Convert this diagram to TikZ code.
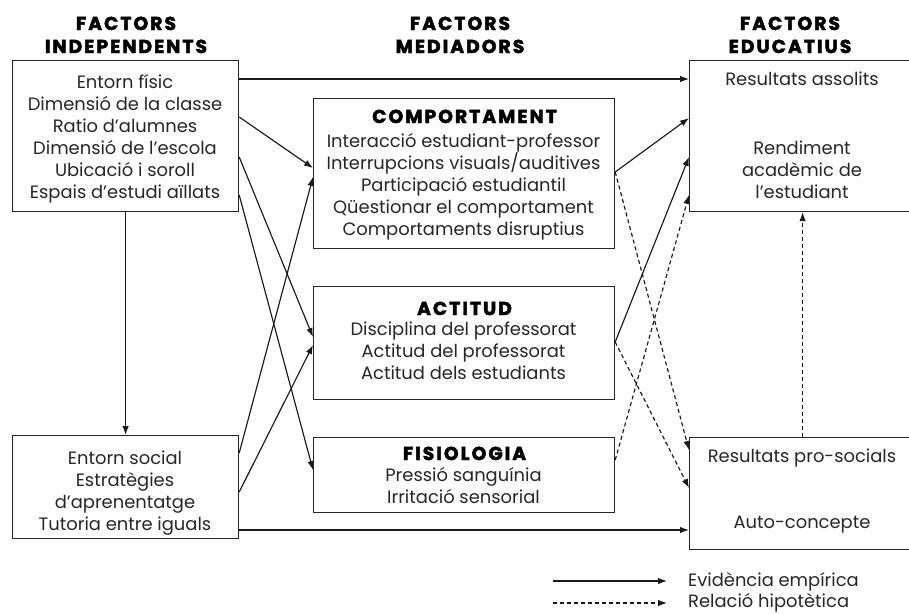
\documentclass[tikz,border=0pt]{standalone}
\usepackage{fontspec}
\setmainfont{Poppins}
\newfontfamily\headfont{Poppins}[LetterSpace=11, BoldFeatures={FakeBold=2.5}]
\usetikzlibrary{arrows.meta,calc}
\begin{document}
% multi-line texts are placed by the baseline of their last line
\begin{tikzpicture}[x=1pt,y=-1pt,
  box/.style={draw=black!85,line width=1.2pt,inner sep=0pt,anchor=north west},
  txt/.style={align=center,font=\fontsize{17.9}{22}\selectfont,text=black!85,inner sep=0pt,anchor=base},
  head/.style={align=center,font=\headfont\fontsize{18.7}{23}\bfseries\selectfont,inner sep=0pt,anchor=base},
  ttl/.style={font=\headfont\fontsize{18.7}{20}\bfseries\selectfont,inner sep=0pt,anchor=base},
  emp/.style={draw=black!90,line width=1.15pt,-{Latex[length=9pt,width=6.5pt]}},
  hyp/.style={emp,dash pattern=on 4pt off 3pt}]
\useasboundingbox (0,0) rectangle (909,613);

% column headings
\node[head] (h1) at (126,53) {FACTORS\\INDEPENDENTS};
\node[head] (h2) at (460,53) {FACTORS\\MEDIADORS};
\node[head] (h3) at (790,53) {FACTORS\\EDUCATIUS};

% boxes
\node[box,minimum width=226pt,minimum height=151pt] (lt) at (12,60) {};
\node[box,minimum width=226pt,minimum height=103pt] (lb) at (12,435) {};
\node[box,minimum width=301pt,minimum height=150pt] (mc) at (313,98) {};
\node[box,minimum width=301pt,minimum height=113pt] (ma) at (313,286) {};
\node[box,minimum width=301pt,minimum height=75pt] (mf) at (313,437) {};
\node[box,minimum width=226pt,minimum height=151pt] (rt) at (689,60) {};
\node[box,minimum width=226pt,minimum height=112pt] (rb) at (689,437) {};

% independent factors
\node[txt] (ltx) at (125,198) {Entorn físic\\Dimensió de la classe\\Ratio d’alumnes\\Dimensió de l’escola\\Ubicació i soroll\\Espais d’estudi aïllats};
\node[txt] (lbx) at (125,530) {Entorn social\\Estratègies\\d’aprenentatge\\Tutoria entre iguals};

% mediating factors
\node[ttl] (mct) at (464.5,123) {COMPORTAMENT};
\node[txt] (mcx) at (463.5,235) {Interacció estudiant-professor\\Interrupcions visuals/auditives\\Participació estudiantil\\Qüestionar el comportament\\Comportaments disruptius};
\node[ttl] (mat) at (464.5,315) {ACTITUD};
\node[txt] (max) at (463.5,379) {Disciplina del professorat\\Actitud del professorat\\Actitud dels estudiants};
\node[ttl] (mft) at (464.5,460) {FISIOLOGIA};
\node[txt] (mfx) at (463.5,503) {Pressió sanguínia\\Irritació sensorial};

% educational outcomes
\node[txt] (rt1) at (802,85) {Resultats assolits};
\node[txt] (rt2) at (802,198) {Rendiment\\acadèmic de\\l’estudiant};
\node[txt] (rb1) at (802,462) {Resultats pro-socials};
\node[txt] (rb2) at (802,528) {Auto-concepte};

% empirical relations
\draw[emp] ([yshift=-19pt]lt.north east) -- ([yshift=-19pt]rt.north west);
\draw[emp] ([yshift=-57pt]lt.north east) -- ([yshift=-70pt]mc.north west);
\draw[emp] ([yshift=-97pt]lt.north east) -- ([yshift=-51pt]ma.north west);
\draw[emp] ([yshift=-135pt]lt.north east) -- ([yshift=-33pt]mf.north west);
\draw[emp] ([yshift=-18pt]lb.north east) -- ([yshift=-79pt]mc.north west);
\draw[emp] ([yshift=-57pt]lb.north east) -- ([yshift=-59pt]ma.north west);
\draw[emp] (lt.south) -- (lb.north);
\draw[emp] ([yshift=-95pt]lb.north east) -- ([yshift=-93pt]rb.north west);
\draw[emp] ([yshift=-74pt]mc.north east) -- ([yshift=-58pt]rt.north west);
\draw[emp] ([yshift=-56pt]ma.north east) -- ([yshift=-97pt]rt.north west);

% hypothesised relations
\draw[hyp] ([yshift=-23pt]mf.north east) -- ([yshift=-135pt]rt.north west);
\draw[hyp] ([yshift=-74pt]mc.north east) -- ([yshift=-13pt]rb.north west);
\draw[hyp] ([yshift=-56pt]ma.north east) -- ([yshift=-51pt]rb.north west);
\draw[hyp] (rb.north) -- (rt.south);

% legend
\coordinate (l1a) at (553,581);
\coordinate (l1b) at (667,581);
\coordinate (l2a) at (553,603);
\coordinate (l2b) at (667,603);
\draw[emp] (l1a) -- (l1b);
\draw[hyp] (l2a) -- (l2b);
\node[txt,anchor=base west] (lg1) at (688,586) {Evidència empírica};
\node[txt,anchor=base west] (lg2) at (688,607) {Relació hipotètica};
\end{tikzpicture}
\end{document}
